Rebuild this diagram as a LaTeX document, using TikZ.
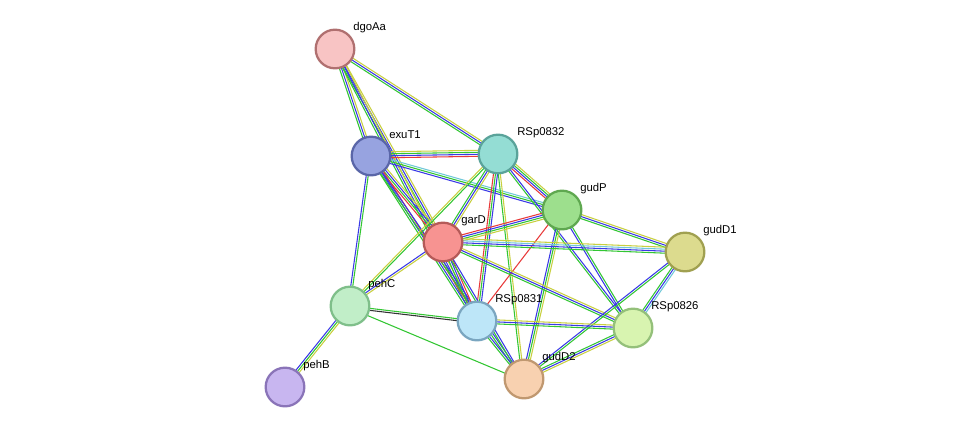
\documentclass[tikz,border=0pt]{standalone}
\usepackage{fontspec}
\setmainfont{Liberation Sans}
\usetikzlibrary{calc}
\definecolor{eg}{HTML}{33C633}
\definecolor{eb}{HTML}{3A3AE6}
\definecolor{ey}{HTML}{C8D040}
\definecolor{er}{HTML}{E83A3A}
\definecolor{ec}{HTML}{70C8D8}
\definecolor{ek}{HTML}{333333}
\newcommand\edg[3]{\foreach \c [count=\i] in {#3} {\draw[\c, line width=0.8pt] let \p1=($(#2)-(#1)$), \n1={atan2(\y1,\x1)+90} in ($(#1)+(\n1:{(\i-2)*1.5pt})$) -- ($(#2)+(\n1:{(\i-2)*1.5pt})$);}}
\begin{document}
\begin{tikzpicture}[x=0.75pt,y=-0.75pt,
  prot/.style={circle,minimum size=29pt,inner sep=0pt,line width=1.7pt},
  lab/.style={anchor=west,font=\fontsize{8.5pt}{9pt}\selectfont,inner sep=0pt}]
\useasboundingbox (0,0) rectangle (975,433);
\coordinate (dgoAa) at (335,49);
\coordinate (exuT1) at (371,156);
\coordinate (RSp0832) at (498,154);
\coordinate (gudP) at (562,210);
\coordinate (garD) at (443,242);
\coordinate (gudD1) at (685,252);
\coordinate (pehC) at (350,306);
\coordinate (RSp0831) at (477,321);
\coordinate (RSp0826) at (633,328);
\coordinate (gudD2) at (524,379);
\coordinate (pehB) at (285,387);
\edg{dgoAa}{exuT1}{eg,eb,ey}
\edg{dgoAa}{RSp0832}{eg,eb,ey}
\edg{dgoAa}{garD}{eg,eb,ey}
\edg{dgoAa}{RSp0831}{eg,eb,ey}
\edg{exuT1}{RSp0832}{er,eb,eg,ey}
\edg{exuT1}{gudP}{eb,eg,ec}
\edg{exuT1}{garD}{er,eg,eb,ey}
\edg{exuT1}{RSp0831}{eg,eb,er}
\edg{exuT1}{gudD2}{eg,eb}
\edg{exuT1}{pehC}{eb,eg}
\edg{RSp0832}{gudP}{er,eb,eg,ey}
\edg{RSp0832}{garD}{eg,eb,ey}
\edg{RSp0832}{pehC}{ey,eg}
\edg{RSp0832}{RSp0831}{er,eg,eb}
\edg{RSp0832}{gudD2}{eg,ey}
\edg{RSp0832}{RSp0826}{eg,eb}
\edg{gudP}{garD}{er,eb,eg,ey}
\edg{gudP}{gudD1}{eg,eb,ey}
\edg{gudP}{RSp0831}{er}
\edg{gudP}{gudD2}{eb,eg,ey}
\edg{gudP}{RSp0826}{eb,eg}
\edg{garD}{gudD1}{eg,eb,ec,ey}
\edg{garD}{pehC}{eb,ey}
\edg{garD}{RSp0831}{eg,eb,er}
\edg{garD}{gudD2}{eg,eb}
\edg{garD}{RSp0826}{eg,eb,ey}
\edg{gudD1}{RSp0826}{eg,eb,ec}
\edg{gudD1}{gudD2}{eb,eg}
\edg{pehC}{pehB}{eb,eg,ey}
\edg{pehC}{RSp0831}{ek,eg}
\edg{pehC}{gudD2}{eg}
\edg{RSp0831}{gudD2}{eg,eb}
\edg{RSp0831}{RSp0826}{eg,eb,ey}
\edg{RSp0826}{gudD2}{eg,eb,ey}
\node[prot,fill={rgb,255:red,248;green,196;blue,196},draw={rgb,255:red,176;green,112;blue,112}] (ndgoAa) at (dgoAa) {};
\node[prot,fill={rgb,255:red,151;green,163;blue,224},draw={rgb,255:red,90;green,102;blue,168}] (nexuT1) at (exuT1) {};
\node[prot,fill={rgb,255:red,148;green,221;blue,212},draw={rgb,255:red,90;green,163;blue,154}] (nRSp0832) at (RSp0832) {};
\node[prot,fill={rgb,255:red,157;green,223;blue,141},draw={rgb,255:red,95;green,168;blue,80}] (ngudP) at (gudP) {};
\node[prot,fill={rgb,255:red,247;green,147;blue,145},draw={rgb,255:red,181;green,90;blue,88}] (ngarD) at (garD) {};
\node[prot,fill={rgb,255:red,220;green,219;blue,142},draw={rgb,255:red,160;green,160;blue,80}] (ngudD1) at (gudD1) {};
\node[prot,fill={rgb,255:red,193;green,238;blue,200},draw={rgb,255:red,127;green,191;blue,138}] (npehC) at (pehC) {};
\node[prot,fill={rgb,255:red,189;green,230;blue,248},draw={rgb,255:red,122;green,166;blue,192}] (nRSp0831) at (RSp0831) {};
\node[prot,fill={rgb,255:red,216;green,244;blue,176},draw={rgb,255:red,148;green,192;blue,122}] (nRSp0826) at (RSp0826) {};
\node[prot,fill={rgb,255:red,248;green,209;blue,176},draw={rgb,255:red,192;green,152;blue,112}] (ngudD2) at (gudD2) {};
\node[prot,fill={rgb,255:red,200;green,182;blue,240},draw={rgb,255:red,138;green,116;blue,184}] (npehB) at (pehB) {};
\node[lab] (ldgoAa) at (353,28) {dgoAa};
\node[lab] (lexuT1) at (389,135) {exuT1};
\node[lab] (lRSp0832) at (517,133) {RSp0832};
\node[lab] (lgudP) at (580,189) {gudP};
\node[lab] (lgarD) at (461,221) {garD};
\node[lab] (lgudD1) at (703,231) {gudD1};
\node[lab] (lpehC) at (368,285) {pehC};
\node[lab] (lRSp0831) at (495,300) {RSp0831};
\node[lab] (lRSp0826) at (651,307) {RSp0826};
\node[lab] (lgudD2) at (542,358) {gudD2};
\node[lab] (lpehB) at (303,366) {pehB};
\end{tikzpicture}
\end{document}
